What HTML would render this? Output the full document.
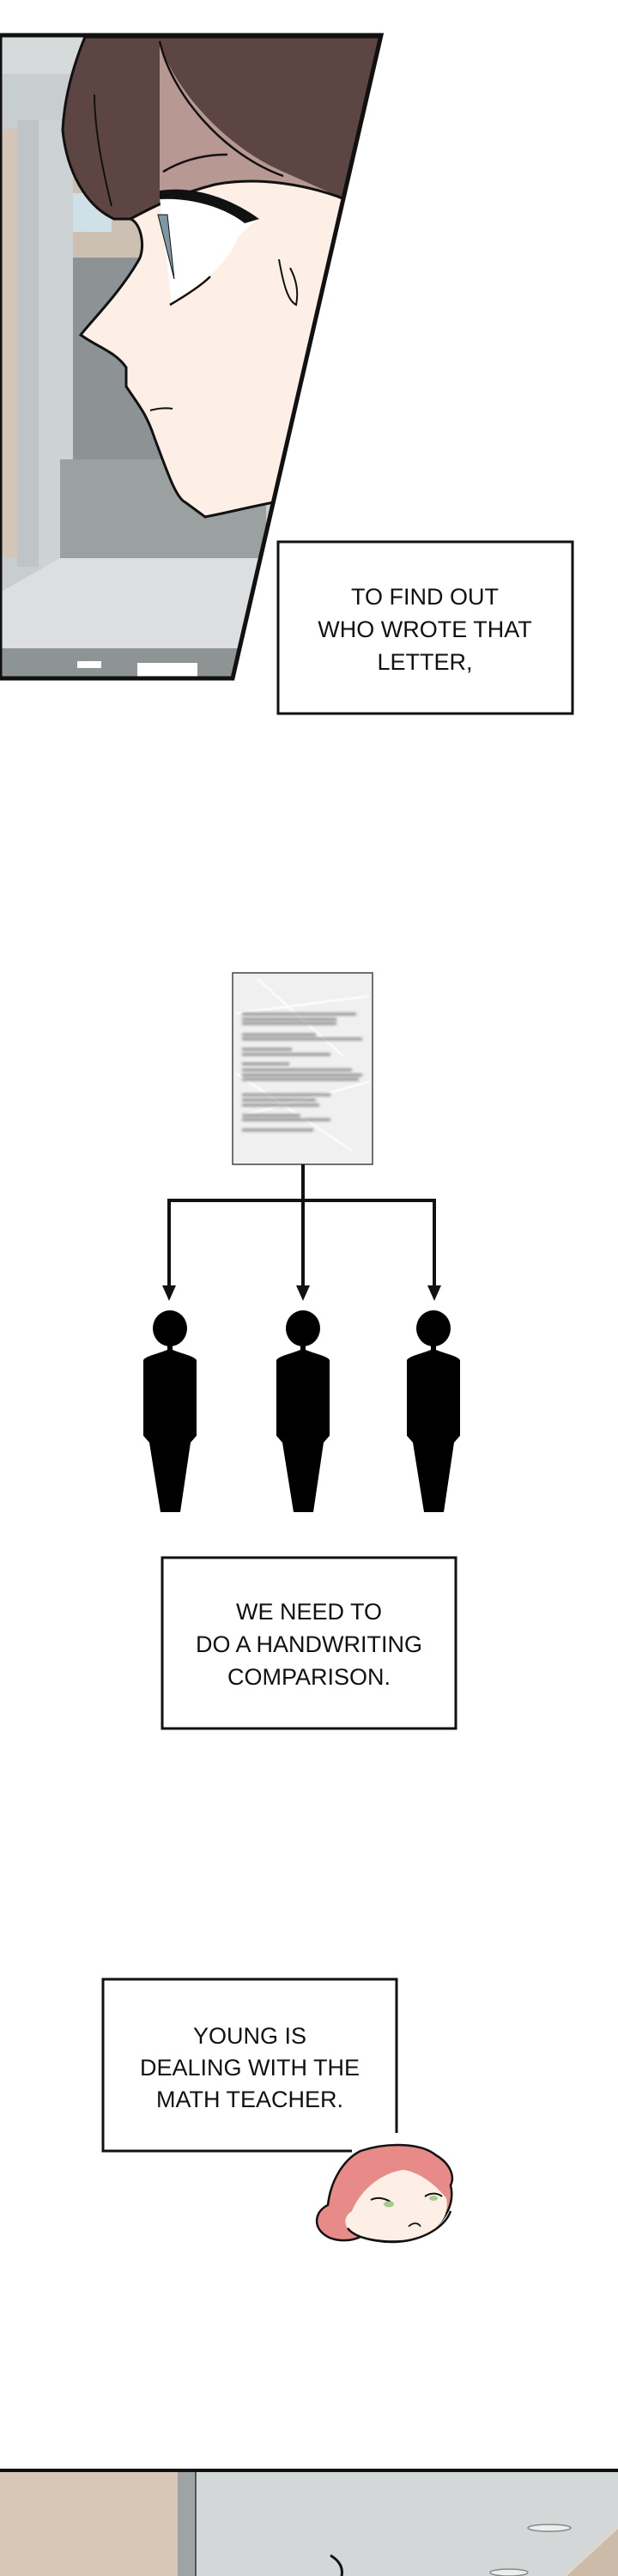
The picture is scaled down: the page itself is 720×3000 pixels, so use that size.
<!DOCTYPE html>
<html><head><meta charset="utf-8"><style>
html,body{margin:0;padding:0;background:#fff}
svg{display:block}
text{font-family:"Liberation Sans",sans-serif;font-size:27px;fill:#111}
</style></head><body>
<svg width="720" height="3000" viewBox="0 0 720 3000" xmlns="http://www.w3.org/2000/svg">
<defs>
<clipPath id="p1"><polygon points="0,41 444,41 271,790 0,790"/></clipPath>
<filter id="bl"><feGaussianBlur stdDeviation="1.6"/></filter>
</defs>
<rect width="720" height="3000" fill="#fff"/>
<!-- Panel 1 -->
<g clip-path="url(#p1)">
<rect x="0" y="41" width="444" height="749" fill="#c8cdcf"/>
<rect x="0" y="41" width="444" height="45" fill="#d6dadb"/>
<rect x="0" y="150" width="20" height="500" fill="#d3c6b6"/>
<rect x="20" y="140" width="60" height="520" fill="#bfc4c6"/>
<rect x="45" y="140" width="40" height="520" fill="#cdd2d4"/>
<rect x="85" y="200" width="90" height="110" fill="#ccc0b2"/>
<rect x="85" y="225" width="45" height="45" fill="#cfe0e6"/>
<rect x="85" y="300" width="240" height="240" fill="#8d9394"/>
<rect x="70" y="535" width="240" height="115" fill="#9ba0a1"/>
<polygon points="0,690 70,650 330,650 330,755 0,755" fill="#dcdedf"/>
<rect x="0" y="755" width="330" height="35" fill="#8e9394"/>
<rect x="90" y="770" width="28" height="8" fill="#fff"/>
<rect x="160" y="772" width="70" height="18" fill="#fff"/>
<!-- hair -->
<path d="M99,43 L444,43 L404,233 C360,215 300,205 250,215 C210,225 180,240 152,255 L133,255 C100,240 78,200 73,152 C75,110 88,70 99,43 Z" fill="#5c4543" stroke="#111" stroke-width="3"/>
<path d="M186,48 C200,100 260,170 330,200 L404,233 L395,260 C360,230 300,225 250,240 L186,230 Z" fill="#b89893"/>
<!-- face -->
<path d="M152,255 C165,260 170,290 161,304 C140,340 110,370 94,390 C115,405 135,410 147,428 L147,450 C160,470 170,480 180,510 C195,550 205,580 216,585 L239,602 C270,596 300,588 330,583 L404,233 C360,215 300,205 250,215 C210,225 180,240 152,255 Z" fill="#fdeee6" stroke="#111" stroke-width="3"/>
<path d="M186,48 C200,110 260,180 330,205" fill="none" stroke="#111" stroke-width="2.5"/>
<path d="M130,240 C120,200 110,150 110,110" fill="none" stroke="#111" stroke-width="2"/>
<!-- eye -->
<path d="M186,225 C230,220 270,235 300,255 L278,275 C270,300 240,330 200,355 L186,230 Z" fill="#fff"/>
<path d="M186,222 C230,215 275,235 302,255 L285,260 C260,240 220,230 186,232 Z" fill="#111"/>
<path d="M184,250 L203,325 L195,250 Z" fill="#7c98a4" stroke="#111" stroke-width="1"/>
<path d="M198,355 C215,345 235,332 245,322" fill="none" stroke="#111" stroke-width="2.5"/>
<path d="M190,200 C215,185 240,180 265,180" fill="none" stroke="#111" stroke-width="2.5"/>
<path d="M325,302 C330,330 335,350 345,355 C348,340 345,325 338,312" fill="none" stroke="#111" stroke-width="2"/>
<path d="M175,478 C185,475 195,475 201,476" fill="none" stroke="#111" stroke-width="2"/>
</g>
<polygon points="0,41 444,41 271,790 0,790" fill="none" stroke="#111" stroke-width="5"/>
<rect x="324" y="631" width="343" height="200" fill="#fff" stroke="#111" stroke-width="3"/>
<text x="495" y="704" text-anchor="middle">TO FIND OUT</text>
<text x="495" y="742" text-anchor="middle">WHO WROTE THAT</text>
<text x="495" y="780" text-anchor="middle">LETTER,</text>
<!-- letter -->
<rect x="271" y="1133" width="163" height="223" fill="#f0f0f0" stroke="#444" stroke-width="1.5"/>
<path d="M275,1180 L430,1160 M280,1300 L430,1260 M300,1140 L400,1230 M275,1250 L410,1340" stroke="#fff" stroke-width="3" opacity="0.7"/>
<g stroke="#8a8a8a" stroke-width="3" filter="url(#bl)">
<line x1="282" y1="1181" x2="415" y2="1181"/><line x1="282" y1="1187" x2="392" y2="1187"/><line x1="282" y1="1192" x2="392" y2="1192"/>
<line x1="282" y1="1205" x2="368" y2="1205"/><line x1="282" y1="1210" x2="422" y2="1210"/>
<line x1="282" y1="1222" x2="340" y2="1222"/><line x1="282" y1="1228" x2="385" y2="1228"/>
<line x1="282" y1="1239" x2="337" y2="1239"/><line x1="282" y1="1246" x2="410" y2="1246"/><line x1="282" y1="1252" x2="422" y2="1252"/><line x1="282" y1="1257" x2="418" y2="1257"/>
<line x1="282" y1="1275" x2="385" y2="1275"/><line x1="282" y1="1281" x2="368" y2="1281"/><line x1="282" y1="1287" x2="372" y2="1287"/>
<line x1="282" y1="1299" x2="350" y2="1299"/><line x1="282" y1="1304" x2="385" y2="1304"/><line x1="282" y1="1316" x2="365" y2="1316"/>
</g>
<!-- connectors -->
<g stroke="#111" stroke-width="4" fill="none">
<line x1="353" y1="1356" x2="353" y2="1500"/>
<polyline points="197,1500 197,1398 506,1398 506,1500"/>
</g>
<g fill="#111">
<polygon points="189,1497 205,1497 197,1515"/>
<polygon points="345,1497 361,1497 353,1515"/>
<polygon points="498,1497 514,1497 506,1515"/>
</g>
<!-- persons -->
<g fill="#000">
<g transform="translate(198,0)"><ellipse cx="0" cy="1547" rx="20" ry="21"/><path d="M-3,1564 L-3,1572 C-15,1577 -28,1579 -31,1584 L-31,1672 L-24,1680 L-11,1761 L12,1761 L24,1680 L31,1672 L31,1584 C28,1579 15,1577 3,1572 L3,1564 Z"/></g>
<g transform="translate(353,0)"><ellipse cx="0" cy="1547" rx="20" ry="21"/><path d="M-3,1564 L-3,1572 C-15,1577 -28,1579 -31,1584 L-31,1672 L-24,1680 L-11,1761 L12,1761 L24,1680 L31,1672 L31,1584 C28,1579 15,1577 3,1572 L3,1564 Z"/></g>
<g transform="translate(505,0)"><ellipse cx="0" cy="1547" rx="20" ry="21"/><path d="M-3,1564 L-3,1572 C-15,1577 -28,1579 -31,1584 L-31,1672 L-24,1680 L-11,1761 L12,1761 L24,1680 L31,1672 L31,1584 C28,1579 15,1577 3,1572 L3,1564 Z"/></g>
</g>
<rect x="189" y="1814" width="342" height="199" fill="#fff" stroke="#111" stroke-width="3"/>
<text x="360" y="1886" text-anchor="middle">WE NEED TO</text>
<text x="360" y="1924" text-anchor="middle">DO A HANDWRITING</text>
<text x="360" y="1962" text-anchor="middle">COMPARISON.</text>
<!-- box 3 -->
<path d="M410,2505 L120,2505 L120,2305 L462,2305 L462,2484" fill="none" stroke="#111" stroke-width="3"/>
<text x="291" y="2380" text-anchor="middle">YOUNG IS</text>
<text x="291" y="2417" text-anchor="middle">DEALING WITH THE</text>
<text x="291" y="2454" text-anchor="middle">MATH TEACHER.</text>
<!-- chibi head -->
<path d="M420,2505 C450,2495 490,2495 508,2510 C525,2520 530,2535 525,2545 C530,2565 520,2585 500,2600 C480,2612 450,2615 420,2605 C405,2612 385,2610 375,2600 C365,2590 368,2575 382,2568 C385,2540 400,2515 420,2505 Z" fill="#e88a87" stroke="#111" stroke-width="2.5"/>
<path d="M410,2575 C420,2550 445,2530 470,2527 C490,2530 508,2545 520,2560 C525,2585 505,2605 470,2610 C445,2612 420,2608 405,2595 C400,2588 402,2580 410,2575 Z" fill="#fdeee6"/>
<path d="M405,2595 C415,2608 445,2612 470,2610 C500,2606 520,2590 525,2575" fill="none" stroke="#111" stroke-width="2.5"/>
<path d="M432,2562 C440,2558 450,2560 457,2566" fill="none" stroke="#111" stroke-width="2"/>
<ellipse cx="453" cy="2567" rx="6" ry="3.5" fill="#a3cc88"/>
<path d="M495,2558 C502,2553 510,2554 515,2558" fill="none" stroke="#111" stroke-width="2"/>
<ellipse cx="505" cy="2560" rx="5" ry="3" fill="#a3cc88"/>
<path d="M476,2593 C481,2588 487,2588 490,2593" fill="none" stroke="#111" stroke-width="1.8"/>
<!-- bottom panel -->
<rect x="0" y="2876" width="720" height="124" fill="#d3d7d8"/>
<rect x="0" y="2878" width="207" height="122" fill="#d8c7b6"/>
<rect x="207" y="2878" width="21" height="122" fill="#9ea3a5"/>
<line x1="228" y1="2878" x2="228" y2="3000" stroke="#333" stroke-width="1.5"/>
<polygon points="720,2945 720,3000 660,3000" fill="#cbbba8"/>
<line x1="720" y1="2943" x2="658" y2="3000" stroke="#e2d6c6" stroke-width="3"/>
<ellipse cx="640" cy="2944" rx="25" ry="4" fill="#eee" stroke="#888" stroke-width="1.5"/>
<ellipse cx="593" cy="2996" rx="22" ry="4" fill="#eee" stroke="#888" stroke-width="1.5"/>
<path d="M385,2976 C395,2982 400,2990 398,3000" fill="none" stroke="#111" stroke-width="3"/>
<line x1="0" y1="2877" x2="720" y2="2877" stroke="#111" stroke-width="4"/>
</svg>
</body></html>
